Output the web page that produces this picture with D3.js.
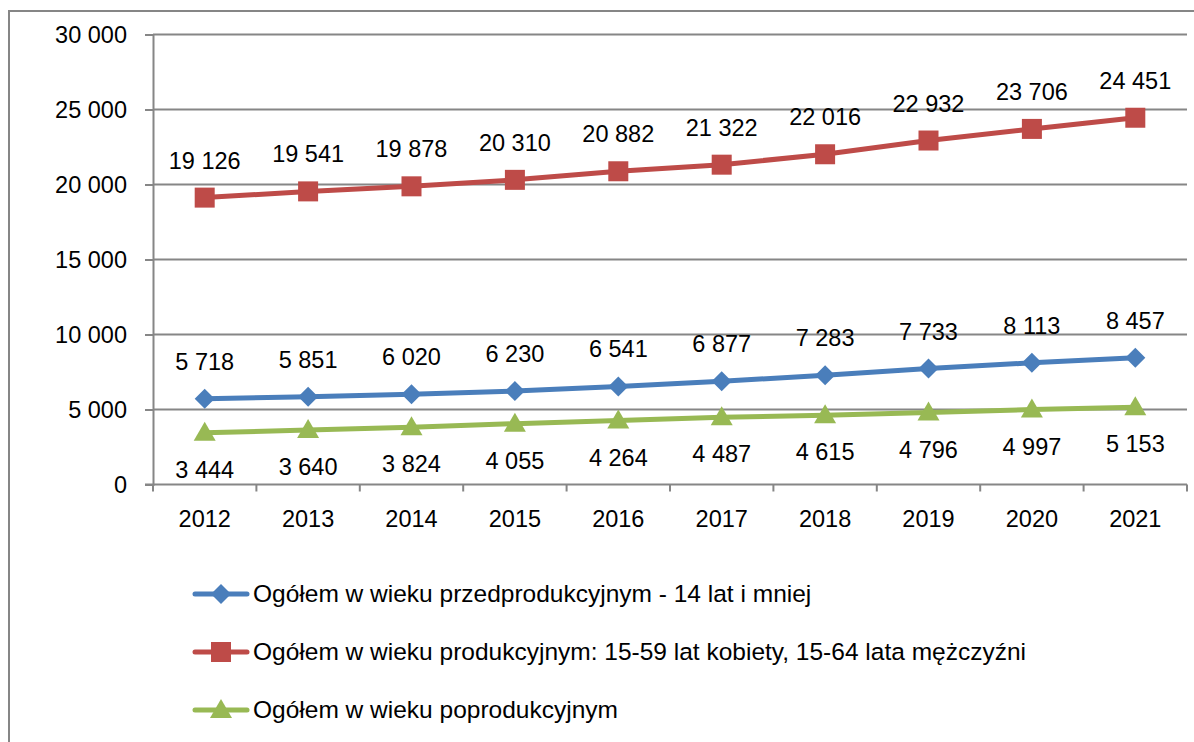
<!DOCTYPE html>
<html>
<head>
<meta charset="utf-8">
<script src="https://cdn.jsdelivr.net/npm/d3@7"></script>
<style>
  html, body { margin: 0; padding: 0; background: #fff; }
  svg { display: block; font-family: "Liberation Sans", Arial, sans-serif; }
</style>
</head>
<body>
<svg id="chart" width="1194" height="742"></svg>
<script>
// chart data
var years = ["2012", "2013", "2014", "2015", "2016", "2017", "2018", "2019", "2020", "2021"];
var przedprodukcyjny = [5718, 5851, 6020, 6230, 6541, 6877, 7283, 7733, 8113, 8457];
var produkcyjny = [19126, 19541, 19878, 20310, 20882, 21322, 22016, 22932, 23706, 24451];
var poprodukcyjny = [3444, 3640, 3824, 4055, 4264, 4487, 4615, 4796, 4997, 5153];
var yTicks = [0, 5000, 10000, 15000, 20000, 25000, 30000];
var seriesNames = [
  "Ogółem w wieku przedprodukcyjnym - 14 lat i mniej",
  "Ogółem w wieku produkcyjnym: 15-59 lat kobiety, 15-64 lata mężczyźni",
  "Ogółem w wieku poprodukcyjnym"
];

var series = [
  { name: seriesNames[0], values: przedprodukcyjny, color: "#4A7EBB", marker: "diamond", labelPos: "above" },
  { name: seriesNames[1], values: produkcyjny, color: "#BE4B48", marker: "square", labelPos: "above" },
  { name: seriesNames[2], values: poprodukcyjny, color: "#98B954", marker: "triangle", labelPos: "below" }
];

var svg = d3.select("#chart");
var gridColor = "#868686";
var fontSize = 23.5;
var legendFont = 24.5;

// outer chart border (right and bottom go past the picture)
svg.append("rect")
  .attr("x", 9).attr("y", 11)
  .attr("width", 1300).attr("height", 900)
  .attr("fill", "none").attr("stroke", gridColor).attr("stroke-width", 2);

var plot = { left: 153, right: 1187, top: 34.5, bottom: 484.5 };

var x = d3.scaleBand().domain(years).range([plot.left, plot.right]);
var y = d3.scaleLinear().domain([0, 30000]).range([plot.bottom, plot.top]);

var fmt = function(v) { return d3.format(",")(v).replace(/,/g, " "); };

// gridlines
svg.append("g").selectAll("line")
  .data(yTicks.filter(function(d) { return d > 0; }))
  .enter().append("line")
  .attr("x1", plot.left).attr("x2", plot.right)
  .attr("y1", function(d) { return y(d); }).attr("y2", function(d) { return y(d); })
  .attr("stroke", gridColor).attr("stroke-width", 2);

// y axis
var yAxis = svg.append("g")
  .attr("transform", "translate(" + plot.left + ",0)")
  .call(d3.axisLeft(y).tickValues(yTicks).tickFormat(fmt).tickSize(8).tickPadding(18));
yAxis.select(".domain").attr("stroke", gridColor).attr("stroke-width", 2);
yAxis.selectAll(".tick line").attr("stroke", gridColor).attr("stroke-width", 2);
yAxis.selectAll("text").attr("font-size", fontSize).attr("fill", "#000")
  .attr("font-family", "Liberation Sans, Arial, sans-serif");

// x axis
var xAxis = svg.append("g")
  .attr("transform", "translate(0," + plot.bottom + ")")
  .call(d3.axisBottom(x).tickSize(0).tickPadding(26));
xAxis.select(".domain").remove();
xAxis.selectAll("text").attr("font-size", fontSize).attr("fill", "#000")
  .attr("font-family", "Liberation Sans, Arial, sans-serif");
svg.append("line")
  .attr("x1", plot.left - 8).attr("x2", plot.right)
  .attr("y1", plot.bottom).attr("y2", plot.bottom)
  .attr("stroke", gridColor).attr("stroke-width", 2);
// category boundary ticks
var bounds = years.map(function(d) { return x(d); }).concat([plot.right]);
svg.append("g").selectAll("line").data(bounds).enter().append("line")
  .attr("x1", function(d) { return d; }).attr("x2", function(d) { return d; })
  .attr("y1", plot.bottom).attr("y2", plot.bottom + 7)
  .attr("stroke", gridColor).attr("stroke-width", 2);

var cx = function(i) { return x(years[i]) + x.bandwidth() / 2; };

function drawMarker(g, type, px, py, color) {
  if (type === "diamond") {
    g.append("path")
      .attr("d", "M" + px + "," + (py - 10) + "L" + (px + 10) + "," + py + "L" + px + "," + (py + 10) + "L" + (px - 10) + "," + py + "Z")
      .attr("fill", color);
  } else if (type === "square") {
    g.append("rect").attr("x", px - 10).attr("y", py - 10).attr("width", 20).attr("height", 20).attr("fill", color);
  } else {
    g.append("path")
      .attr("d", "M" + px + "," + (py - 11) + "L" + (px + 11) + "," + (py + 8) + "L" + (px - 11) + "," + (py + 8) + "Z")
      .attr("fill", color);
  }
}

var line = d3.line()
  .x(function(d, i) { return cx(i); })
  .y(function(d) { return y(d); });

series.forEach(function(s) {
  var g = svg.append("g");
  g.append("path")
    .datum(s.values)
    .attr("d", line)
    .attr("fill", "none")
    .attr("stroke", s.color)
    .attr("stroke-width", 5)
    .attr("stroke-linejoin", "round")
    .attr("stroke-linecap", "round");
  s.values.forEach(function(v, i) {
    drawMarker(g, s.marker, cx(i), y(v), s.color);
  });
  g.selectAll("text.lbl").data(s.values).enter().append("text")
    .attr("class", "lbl")
    .attr("x", function(d, i) { return cx(i); })
    .attr("y", function(d) { return s.labelPos === "above" ? y(d) - 29 : y(d) + 45; })
    .attr("text-anchor", "middle")
    .attr("font-size", fontSize)
    .attr("fill", "#000")
    .text(fmt);
});

// legend
var legendY = [594, 652, 710];
series.forEach(function(s, i) {
  var g = svg.append("g").attr("transform", "translate(0," + legendY[i] + ")");
  g.append("line")
    .attr("x1", 195).attr("x2", 247).attr("y1", 0).attr("y2", 0)
    .attr("stroke", s.color).attr("stroke-width", 5).attr("stroke-linecap", "round");
  drawMarker(g, s.marker, 221, 0, s.color);
  g.append("text")
    .attr("x", 253).attr("y", 8)
    .attr("font-size", legendFont)
    .attr("fill", "#000")
    .text(s.name);
});
</script>
</body>
</html>
